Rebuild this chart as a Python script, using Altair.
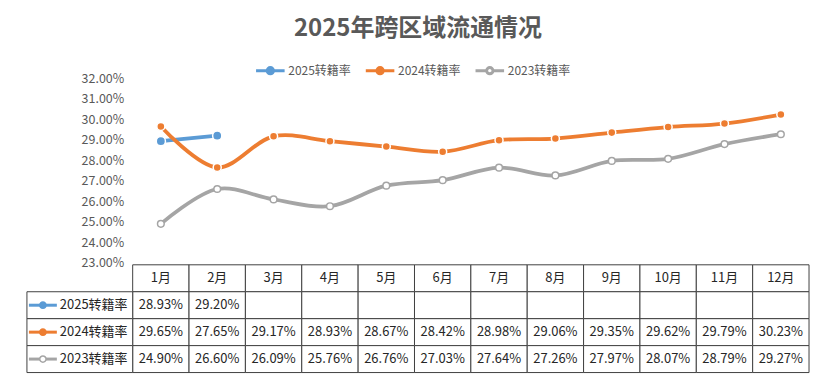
import altair as alt
import pandas as pd

months = ["1月", "2月", "3月", "4月", "5月", "6月", "7月", "8月", "9月", "10月", "11月", "12月"]
series = ["2025转籍率", "2024转籍率", "2023转籍率"]
v2025 = [28.93, 29.20]
v2024 = [29.65, 27.65, 29.17, 28.93, 28.67, 28.42, 28.98, 29.06, 29.35, 29.62, 29.79, 30.23]
v2023 = [24.90, 26.60, 26.09, 25.76, 26.76, 27.03, 27.64, 27.26, 27.97, 28.07, 28.79, 29.27]
line_colors = ["#5B9BD5", "#ED7D31", "#A5A5A5"]
point_fill = ["#5B9BD5", "#ED7D31", "#FFFFFF"]
point_stroke = ["#FFFFFF", "#FFFFFF", "#A5A5A5"]
point_size = [85, 45, 45]
y_ticks = [23, 24, 25, 26, 27, 28, 29, 30, 31, 32]

FONT = "Noto Sans CJK SC"
TXT = "#595959"

rows = []
for s, vals in zip(series, [v2025, v2024, v2023]):
    for m, v in zip(months, vals):
        rows.append({"month": m, "series": s, "value": v, "label": f"{v:.2f}%"})
df = pd.DataFrame(rows)

xs = alt.X("month:N", sort=months,
           scale=alt.Scale(type="point", padding=0.5, domain=months), axis=None)
ys = alt.Y("value:Q",
           scale=alt.Scale(domain=[23, 32], nice=False, zero=False),
           axis=alt.Axis(values=y_ticks, labelExpr="format(datum.value,'.2f')+'%'",
                         ticks=False, domain=False, grid=False, labelColor=TXT,
                         labelFontSize=12.5, labelPadding=9, labelFont=FONT, title=None))

legend = alt.Legend(orient="none", legendX=122, legendY=-24, direction="horizontal",
                    title=None, symbolType="M-1,0H-0.26M0.26,0H1M-0.22,0A0.22,0.22 0 1,0 0.22,0A0.22,0.22 0 1,0 -0.22,0",
                    symbolSize=820, symbolStrokeWidth=3, symbolFillColor="white",
                    labelFontSize=12, labelColor=TXT, labelFont=FONT,
                    columnPadding=8, labelOffset=2)

lines = alt.Chart(df).mark_line(interpolate="catmull-rom", strokeWidth=3.8).encode(
    x=xs, y=ys,
    color=alt.Color("series:N", scale=alt.Scale(domain=series, range=line_colors), legend=legend),
)
points = alt.Chart(df).mark_point(shape="circle", filled=True, opacity=1, strokeWidth=1.5).encode(
    x=xs, y=ys,
    fill=alt.Fill("series:N", scale=alt.Scale(domain=series, range=point_fill), legend=None),
    stroke=alt.Stroke("series:N", scale=alt.Scale(domain=series, range=point_stroke), legend=None),
    size=alt.Size("series:N", scale=alt.Scale(domain=series, range=point_size), legend=None),
)
top = alt.layer(lines, points).properties(
    width=678, height=185, view=alt.ViewBackground(stroke="transparent", strokeWidth=0))

# table
rowsdom = ["hdr"] + series
grid_df = pd.DataFrame([{"month": m, "row": r} for r in rowsdom for m in months])
hdr_df = pd.DataFrame({"month": months, "row": ["hdr"] * len(months)})
val_df = df.rename(columns={"series": "row"})
lab_df = pd.DataFrame({"row": series, "c": line_colors, "pf": point_fill})

bx = alt.X("month:N", sort=months,
           scale=alt.Scale(domain=months, paddingInner=0, paddingOuter=0), axis=None)
by = alt.Y("row:N", scale=alt.Scale(domain=rowsdom, paddingInner=0, paddingOuter=0), axis=None)

cells = alt.Chart(grid_df).mark_rect(fill="white", stroke="#404040", strokeWidth=1).encode(x=bx, y=by)
hdr = alt.Chart(hdr_df).mark_text(fontSize=13, font=FONT, color="#262626").encode(x=bx, y=by, text="month:N")
vals = alt.Chart(val_df).mark_text(fontSize=13, font=FONT, color="#262626").encode(x=bx, y=by, text="label:N")
lcells = alt.Chart(lab_df).mark_rect(fill="white", stroke="#404040", strokeWidth=1).encode(
    x=alt.value(-106), x2=alt.value(0), y=by)
ltext = alt.Chart(lab_df).mark_text(fontSize=13, font=FONT, color="#262626", align="left").encode(
    x=alt.value(-73), y=by, text="row:N")
lsym = alt.Chart(lab_df).mark_rule(strokeWidth=3).encode(
    x=alt.value(-104), x2=alt.value(-76), y=by, color=alt.Color("c:N", scale=None))
ldot = alt.Chart(lab_df).mark_point(shape="circle", filled=True, opacity=1, size=40, strokeWidth=1.5).encode(
    x=alt.value(-90), y=by, fill=alt.Fill("pf:N", scale=None), stroke=alt.Stroke("c:N", scale=None))
table = alt.layer(cells, hdr, vals, lcells, ltext, lsym, ldot).properties(
    width=678, height=108, view=alt.ViewBackground(stroke="transparent", strokeWidth=0))

chart = alt.vconcat(top, table, spacing=2, bounds="flush").resolve_scale(
    color="independent", fill="independent", stroke="independent"
).properties(
    title=alt.TitleParams("2025年跨区域流通情况", fontSize=24, font=FONT, fontWeight="bold",
                          color=TXT, anchor="middle", offset=13),
    padding={"left": 26, "top": 17, "right": 10, "bottom": 0},
).configure_view(stroke="transparent", strokeWidth=0).configure(background="white")

chart.save("out.html", embed_options={"renderer": "svg", "actions": False})
